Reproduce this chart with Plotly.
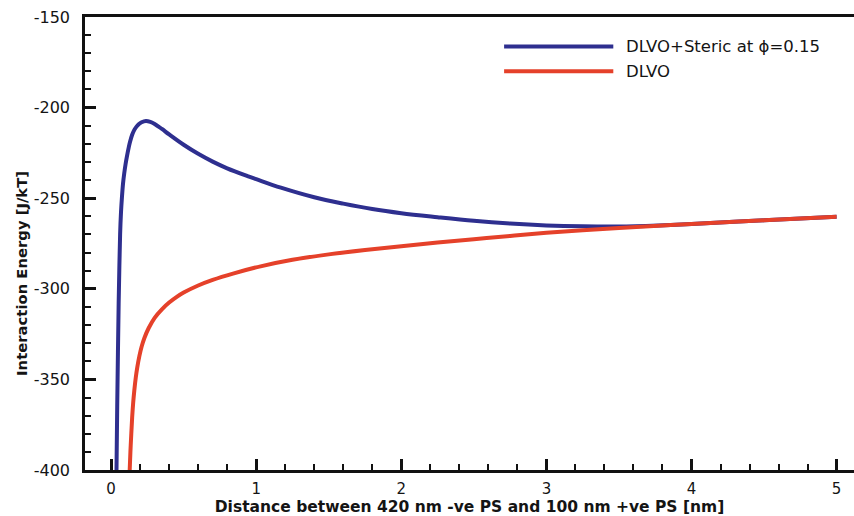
import plotly.graph_objects as go

# DLVO + Steric at phi=0.15 (blue)
x_steric = [0.037, 0.042, 0.047, 0.052, 0.057, 0.062, 0.068, 0.075, 0.082, 0.09, 0.1, 0.11, 0.12, 0.13, 0.145,
            0.16, 0.175, 0.19, 0.21, 0.24, 0.27, 0.3, 0.35, 0.4, 0.5, 0.6, 0.7, 0.8, 0.94, 1.0, 1.17, 1.4,
            1.6, 1.8, 2.0, 2.25, 2.5, 2.75, 3.0, 3.25, 3.5, 3.77, 4.0, 4.5, 5.0]
y_steric = [-400, -365, -335, -308, -287, -270, -258, -249, -242, -236.5, -231, -226.5, -222.5, -219, -215,
            -212.3, -210.5, -209.2, -208.1, -207.4, -207.9, -209, -211.8, -214.8, -220.5, -225.5, -229.8, -233.5,
            -237.8, -239.5, -244.2, -249.5, -253, -256, -258.3, -260.5, -262.5, -264, -265, -265.5, -265.6,
            -265, -264.2, -262.2, -260.2]

# DLVO (red)
x_dlvo = [0.128, 0.133, 0.139, 0.145, 0.152, 0.16, 0.17, 0.18, 0.195, 0.21, 0.23, 0.26, 0.3, 0.35, 0.4, 0.45,
          0.5, 0.6, 0.7, 0.84, 1.03, 1.25, 1.5, 1.75, 2.0, 2.25, 2.5, 2.75, 3.0, 3.25, 3.5, 3.77, 4.0, 4.5, 5.0]
y_dlvo = [-400, -390, -380, -371, -363, -356, -349, -343.5, -337, -332, -327, -321.5, -316, -311.3, -307.6, -304.6,
          -302.1, -298.2, -295.1, -291.6, -287.6, -284, -281, -278.6, -276.5, -274.5, -272.6, -270.8, -269.1, -267.7,
          -266.4, -265.2, -264.2, -262.2, -260.2]

x_ticks = [0, 1, 2, 3, 4, 5]
y_ticks = [-400, -350, -300, -250, -200, -150]

series_names = ["DLVO+Steric at \u03d5=0.15", "DLVO"]
series_colors = ["#2e2f8f", "#e5412a"]

fig = go.Figure()
fig.add_trace(go.Scatter(x=x_steric, y=y_steric, mode="lines", name=series_names[0],
                         line=dict(color=series_colors[0], width=4, shape="spline", smoothing=1.0),
                         showlegend=False))
fig.add_trace(go.Scatter(x=x_dlvo, y=y_dlvo, mode="lines", name=series_names[1],
                         line=dict(color=series_colors[1], width=4, shape="spline", smoothing=1.0),
                         showlegend=False))

font_family = "DejaVu Sans, Liberation Sans, Arial, sans-serif"
txt_color = "#141414"

# custom legend (long line samples like the reference)
leg_y = [0.935, 0.88]
for name, color, ly in zip(series_names, series_colors, leg_y):
    fig.add_shape(type="line", xref="paper", yref="paper", x0=0.545, x1=0.687, y0=ly, y1=ly,
                  line=dict(color=color, width=4))
    fig.add_annotation(xref="paper", yref="paper", x=0.701, y=ly, text=name, showarrow=False,
                       xanchor="left", yanchor="middle",
                       font=dict(family=font_family, size=16.5, color=txt_color))

fig.add_annotation(xref="paper", yref="paper", x=-0.082, y=0.435, text="<b>Interaction Energy [J/kT]</b>",
                   textangle=-90, showarrow=False, xanchor="center", yanchor="middle",
                   font=dict(family=font_family, size=14.8, color=txt_color))

fig.update_layout(
    width=854, height=516,
    margin=dict(l=85, r=0, t=17, b=46),
    plot_bgcolor="white", paper_bgcolor="white",
    font=dict(family=font_family, size=15, color=txt_color),
)
fig.update_xaxes(
    range=[-0.18, 5.12], tickvals=x_ticks, ticktext=[str(v) for v in x_ticks],
    showgrid=False, zeroline=False, showline=True, linecolor="#111", linewidth=2.5, mirror=True,
    ticks="inside", ticklen=11, tickwidth=2.5, tickcolor="#111",
    minor=dict(dtick=0.2, tick0=0, ticks="inside", ticklen=6, tickwidth=1.5, tickcolor="#111"),
    tickfont=dict(size=15, family=font_family, color=txt_color),
    ticklabelstandoff=3,
    title=dict(text="<b>Distance between 420 nm -ve PS and 100 nm +ve PS [nm]</b>",
               font=dict(size=15.5, family=font_family, color=txt_color), standoff=3),
)
fig.update_yaxes(
    range=[-400, -150], tickvals=y_ticks, ticktext=[str(v) for v in y_ticks],
    showgrid=False, zeroline=False, showline=True, linecolor="#111", linewidth=2.5,
    ticks="inside", ticklen=11, tickwidth=2.5, tickcolor="#111",
    minor=dict(dtick=10, tick0=-400, ticks="inside", ticklen=6, tickwidth=1.5, tickcolor="#111"),
    tickfont=dict(size=16, family=font_family, color=txt_color),
    ticklabelstandoff=9,
)

fig.write_html("out.html")
